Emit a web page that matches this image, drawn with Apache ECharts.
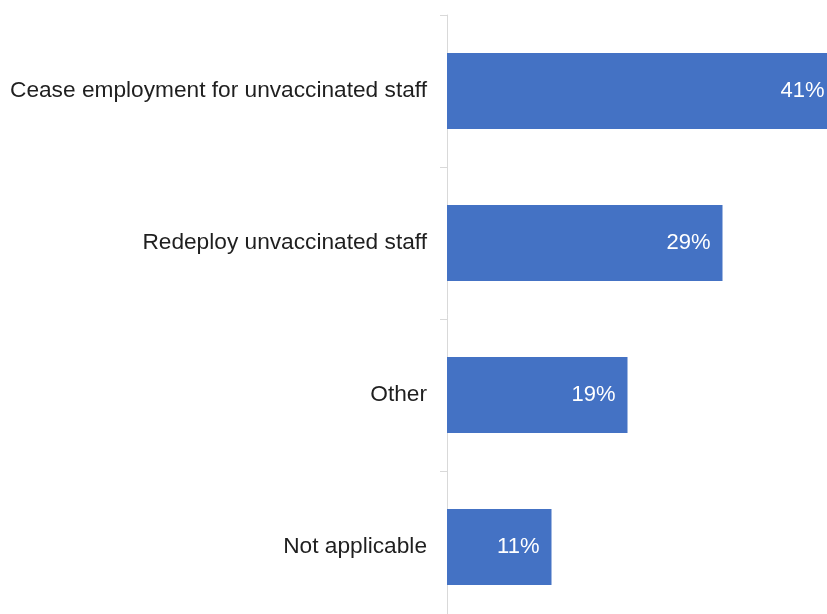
<!DOCTYPE html>
<html><head><meta charset="utf-8">
<script src="https://cdn.jsdelivr.net/npm/echarts@6/dist/echarts.min.js"></script>
<style>html,body{margin:0;padding:0;background:#fff}#c{width:827px;height:614px}</style>
</head><body><div id="c"></div>
<script>
const categories = ["Cease employment for unvaccinated staff", "Redeploy unvaccinated staff", "Other", "Not applicable"];
const values = [41, 29, 19, 11];
const chart = echarts.init(document.getElementById('c'), null, {renderer: 'canvas'});
chart.setOption({
  animation: false,
  grid: {left: 447, right: 0, top: 15, height: 608, containLabel: false, outerBoundsMode: 'none'},
  xAxis: {type: 'value', min: 0, max: 40, show: false},
  yAxis: {
    type: 'category', data: categories, inverse: true,
    axisLine: {show: true, lineStyle: {color: '#d9d9d9', width: 1}},
    axisTick: {show: true, length: 7, lineStyle: {color: '#d9d9d9'}},
    axisLabel: {margin: 20, color: '#1f1f1f', fontSize: 22.7, fontFamily: 'Liberation Sans, Arial, sans-serif'},
    splitLine: {show: false}
  },
  series: [{
    type: 'bar', data: values, barWidth: '50%', clip: false,
    itemStyle: {color: '#4472C4'},
    label: {show: true, position: 'insideRight', distance: 12, color: '#ffffff', fontSize: 22,
      fontFamily: 'Liberation Sans, Arial, sans-serif', formatter: p => p.value + '%'}
  }]
});
</script></body></html>
